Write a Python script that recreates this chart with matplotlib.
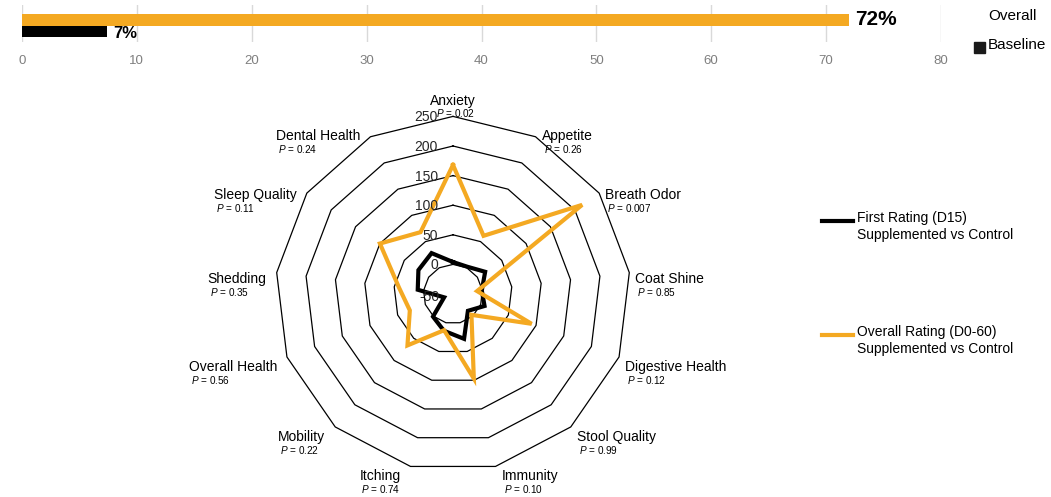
import numpy as np
import matplotlib
matplotlib.use("Agg")
import matplotlib.pyplot as plt
from matplotlib.lines import Line2D
from matplotlib.patches import Rectangle

plt.rcParams['font.family'] = ['Liberation Sans', 'DejaVu Sans']
plt.rcParams['mathtext.fontset'] = 'custom'
plt.rcParams['mathtext.it'] = 'Liberation Sans:italic'
plt.rcParams['mathtext.rm'] = 'Liberation Sans'

# ---- data: top bar chart
bar_names = ["Overall", "Baseline"]
bar_values = [72.0, 7.4]
bar_ticks = [0, 10, 20, 30, 40, 50, 60, 70, 80]

# ---- data: radar chart
categories = ["Anxiety", "Appetite", "Breath Odor", "Coat Shine", "Digestive Health",
              "Stool Quality", "Immunity", "Itching", "Mobility", "Overall Health",
              "Shedding", "Sleep Quality", "Dental Health"]
p_values = ["0.02", "0.26", "0.007", "0.85", "0.12", "0.99", "0.10", "0.74",
            "0.22", "0.56", "0.35", "0.11", "0.24"]
first_rating = [4, 2, 16, -1, 7, -12, 28, 14, 1, -34, 10, 21, 28]
overall_rating = [168, 61, 215, -9, 92, -3, 97, 13, 66, 28, 42, 100, 68]
ring_values = [0, 50, 100, 150, 200, 250]
r_min = -50

ORANGE = "#F4A922"
BLACK = "#000000"

W, H = 1051, 497
fig = plt.figure(figsize=(W / 100, H / 100), dpi=100)


def box(x0, y0, x1, y1):
    # pixel box (top-left origin) -> figure fraction rect
    return [x0 / W, 1 - y1 / H, (x1 - x0) / W, (y1 - y0) / H]


# ================= top bar chart
ax_bar = fig.add_axes(box(22, 5, 941, 42))
ax_bar.barh([1, 0], bar_values, height=1.0, color=[ORANGE, BLACK])
for y, v, fs, dy in zip([1, 0], bar_values, [15, 12], [0, -2]):
    ax_bar.annotate(f"{v:.0f}%", xy=(v, y), xytext=(6, dy), textcoords="offset pixels",
                    ha="left", va="center", fontsize=fs, fontweight="bold")
ax_bar.set_xlim(0, 80)
ax_bar.set_ylim(-0.913, 2.304)
ax_bar.set_xticks(bar_ticks)
ax_bar.set_yticks([])
ax_bar.tick_params(axis="x", length=0, pad=9, labelsize=9.5, labelcolor="#7f7f7f")
ax_bar.grid(axis="x", color="#d9d9d9", lw=1)
ax_bar.set_axisbelow(True)
for s in ax_bar.spines.values():
    s.set_visible(False)

# legend of the bar chart
fig.text(988 / W, 1 - 16 / H, bar_names[0], fontsize=11, ha="left", va="center")
fig.text(988 / W, 1 - 45 / H, bar_names[1], fontsize=11, ha="left", va="center")
fig.add_artist(Rectangle((974 / W, 1 - 53 / H), 11 / W, 11 / H,
                         transform=fig.transFigure, color="#1a1a1a"))

# ================= radar chart
cx, cy = 453, 294
scale = 177.6 / (ring_values[-1] - r_min)  # px per unit
hw, hh = 320, 200
ax = fig.add_axes(box(cx - hw, cy - hh, cx + hw, cy + hh))
ax.set_xlim(-hw / scale, hw / scale)
ax.set_ylim(-hh / scale, hh / scale)
ax.axis("off")

n = len(categories)
theta = 2 * np.pi * np.arange(n) / n


def to_xy(vals):
    r = np.asarray(vals, dtype=float) - r_min
    r = np.append(r, r[0])
    t = np.append(theta, theta[0])
    return r * np.sin(t), r * np.cos(t)


for rv in ring_values:
    x, y = to_xy([rv] * n)
    ax.plot(x, y, color="black", lw=0.9, zorder=1)
    ax.annotate(str(rv), xy=(0, rv - r_min), xytext=(-15, -1), textcoords="offset pixels",
                ha="right", va="center", fontsize=10, color="#262626", zorder=5)
ax.annotate(str(r_min), xy=(0, 0), xytext=(-14, -3), textcoords="offset pixels",
            ha="right", va="center", fontsize=10, color="#262626", zorder=5)

x, y = to_xy(first_rating)
ax.plot(x, y, color=BLACK, lw=3, solid_joinstyle="miter", zorder=3)
x, y = to_xy(overall_rating)
ax.plot(x, y, color=ORANGE, lw=3, solid_joinstyle="miter", zorder=4)

# category labels with P values
ox, oy = to_xy([ring_values[-1]] * n)
for i, (cat, p) in enumerate(zip(categories, p_values)):
    s, c = np.sin(theta[i]), np.cos(theta[i])
    ptxt = f"$P$ = {p}"
    if abs(s) < 0.05:
        ax.annotate(cat, xy=(ox[i], oy[i]), xytext=(0, 15), textcoords="offset pixels",
                    ha="center", va="center", fontsize=10)
        ax.annotate(ptxt, xy=(ox[i], oy[i]), xytext=(3, 3), textcoords="offset pixels",
                    ha="center", va="center", fontsize=7.2, zorder=6)
        continue
    dy = -min(8 - 10 * c, 10)
    if s > 0:
        lab = ax.annotate(cat, xy=(ox[i], oy[i]), xytext=(6, dy), textcoords="offset pixels",
                          ha="left", va="center", fontsize=10)
    else:
        lab = ax.annotate(cat, xy=(ox[i], oy[i]), xytext=(-10, dy), textcoords="offset pixels",
                          ha="right", va="center", fontsize=10)
    ax.annotate(ptxt, xy=(0, 0), xycoords=lab, xytext=(2, 0), textcoords="offset pixels",
                ha="left", va="top", fontsize=7.2)

# radar legend
for yl, col, txt in [(221, BLACK, "First Rating (D15)\nSupplemented vs Control"),
                     (335, ORANGE, "Overall Rating (D0-60)\nSupplemented vs Control")]:
    fig.add_artist(Line2D([822 / W, 853 / W], [1 - yl / H, 1 - yl / H],
                          transform=fig.transFigure, color=col, lw=3))
    fig.text(857 / W, 1 - (yl - 10) / H, txt, fontsize=10, ha="left", va="top",
             linespacing=1.25)

fig.savefig("out.png", dpi=100)
